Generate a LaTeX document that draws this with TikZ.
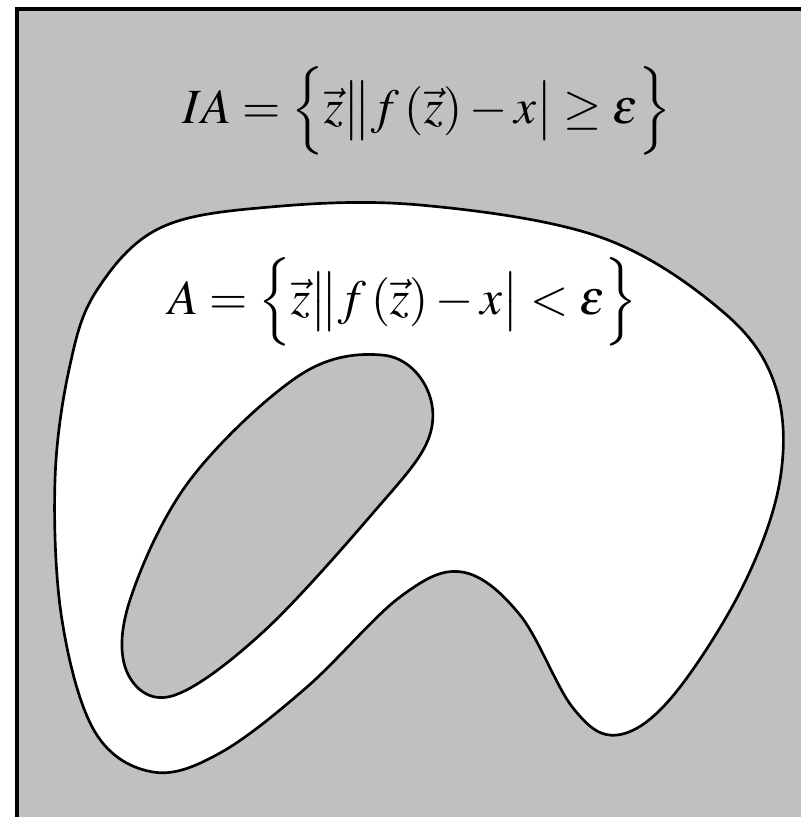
\documentclass[tikz,border=0pt]{standalone}
\usepackage{mathptmx}
\usepackage{fontspec}
\setmainfont{Liberation Serif}
\definecolor{regiongray}{RGB}{192,192,192}

\begin{document}
\begin{tikzpicture}[
    x=0.025cm, y=-0.025cm,
    region/.style={draw, line width=1.9pt, line join=round},
    formula/.style={font=\fontsize{35}{42}\selectfont, inner sep=0pt, anchor=base},
]
    \useasboundingbox (0,0) rectangle (801,817);
    \clip (0,0) rectangle (801,817);
    % outside of A
    \draw[fill=regiongray, line width=2.8pt] (17,9) rectangle (840,850);
    % the set A
    \draw[region, fill=white] plot[smooth cycle, tension=0.6] coordinates {
        (97,290) (160,228) (270,207) (420,205) (600,237) (722,311)
        (775,385) (780,480) (742,588) (672,697) (617,735) (573,708)
        (520,615) (462,572) (400,597) (307,687) (220,753) (153,772)
        (95,732) (62,620) (55,480) (70,365)};
    % hole in A
    \draw[region, fill=regiongray] plot[smooth cycle, tension=0.6] coordinates {
        (382,355) (425,385) (428,440) (373,513) (262,633) (172,696)
        (127,672) (130,600) (190,480) (300,375)};
    \node[formula] (ia) at (427,123)
        {$IA=\Bigl\{\vec{z}\bigl\|f\,(\vec{z})-x\bigr|\geq\varepsilon\Bigr\}$};
    \node[formula] (a) at (403,314)
        {$A=\Bigl\{\vec{z}\bigl\|f\,(\vec{z})-x\bigr|<\varepsilon\Bigr\}$};
\end{tikzpicture}
\end{document}
